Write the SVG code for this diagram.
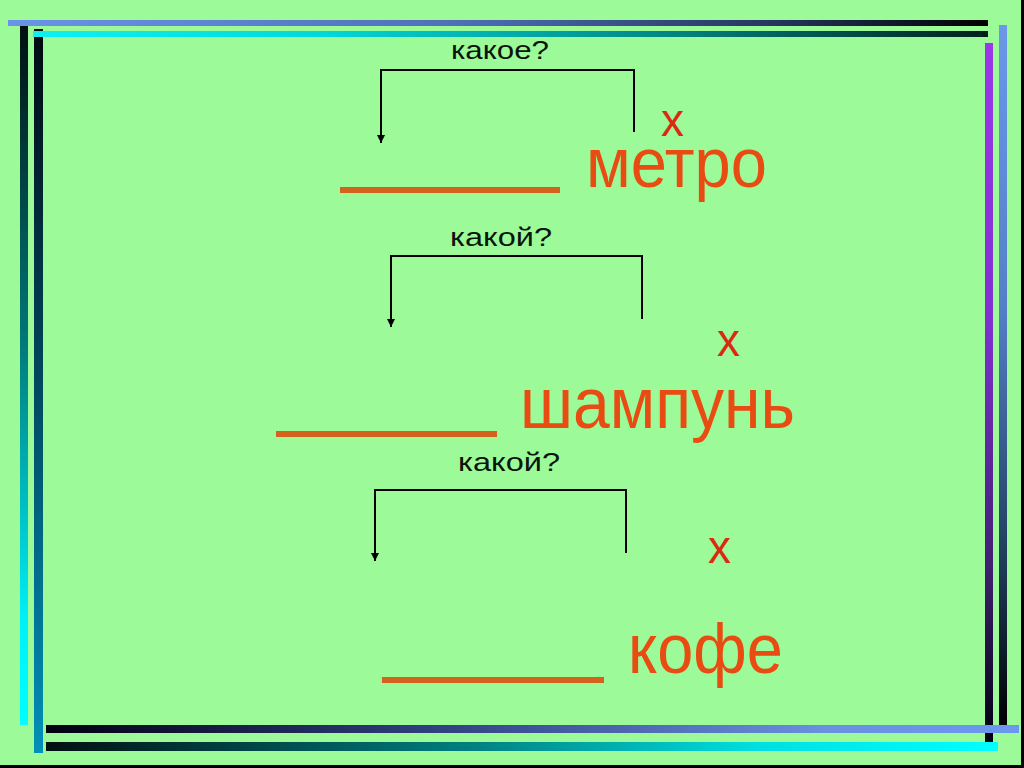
<svg xmlns="http://www.w3.org/2000/svg" width="1024" height="768" viewBox="0 0 1024 768">
<style>
.q{font-family:"Liberation Sans",Arial,sans-serif;font-size:26px;fill:#0a140a}
.w{font-family:"Liberation Sans",Arial,sans-serif;fill:#e84c12}
.x{font-family:"Liberation Sans",Arial,sans-serif;font-size:46px;fill:#d92a12}
.u{fill:#d2621c}
.br{fill:none;stroke:#000;stroke-width:2}
</style>
<defs>
<marker id="ah" viewBox="0 0 10 10" refX="10" refY="5" markerWidth="9" markerHeight="8" markerUnits="userSpaceOnUse" orient="auto">
<path d="M0,0 L10,5 L0,10 z" fill="#000"/>
</marker>
<linearGradient id="gT1" x1="0" y1="0" x2="1" y2="0"><stop offset="0" stop-color="#6a94e8"/><stop offset="0.45" stop-color="#5070b8"/><stop offset="0.78" stop-color="#253660"/><stop offset="1" stop-color="#000"/></linearGradient>
<linearGradient id="gT2" x1="0" y1="0" x2="1" y2="0"><stop offset="0" stop-color="#10f0f0"/><stop offset="0.3" stop-color="#00d8d8"/><stop offset="0.65" stop-color="#008a88"/><stop offset="1" stop-color="#002018"/></linearGradient>
<linearGradient id="gL1" x1="0" y1="0" x2="0" y2="1"><stop offset="0" stop-color="#001010"/><stop offset="0.45" stop-color="#007878"/><stop offset="0.85" stop-color="#00f0f8"/><stop offset="1" stop-color="#00ffff"/></linearGradient>
<linearGradient id="gL2" x1="0" y1="0" x2="0" y2="1"><stop offset="0" stop-color="#000810"/><stop offset="0.5" stop-color="#004a60"/><stop offset="1" stop-color="#0090b8"/></linearGradient>
<linearGradient id="gR1" x1="0" y1="0" x2="0" y2="1"><stop offset="0" stop-color="#9a38ea"/><stop offset="0.4" stop-color="#8030d0"/><stop offset="0.75" stop-color="#402070"/><stop offset="1" stop-color="#000010"/></linearGradient>
<linearGradient id="gR2" x1="0" y1="0" x2="0" y2="1"><stop offset="0" stop-color="#6a98e8"/><stop offset="0.4" stop-color="#5580c8"/><stop offset="0.75" stop-color="#204060"/><stop offset="1" stop-color="#000"/></linearGradient>
<linearGradient id="gB1" x1="0" y1="0" x2="1" y2="0"><stop offset="0" stop-color="#000010"/><stop offset="0.4" stop-color="#304080"/><stop offset="0.8" stop-color="#6a90e0"/><stop offset="1" stop-color="#6a98f0"/></linearGradient>
<linearGradient id="gB2" x1="0" y1="0" x2="1" y2="0"><stop offset="0" stop-color="#001010"/><stop offset="0.45" stop-color="#008080"/><stop offset="0.75" stop-color="#00e0e0"/><stop offset="1" stop-color="#00ffff"/></linearGradient>
</defs>
<rect width="1024" height="768" fill="#9dfa98"/>
<g id="frame">
<rect x="20" y="26" width="8" height="699" fill="url(#gL1)"/>
<rect x="34" y="29" width="9" height="724" fill="url(#gL2)"/>
<rect x="985" y="43" width="8" height="699" fill="url(#gR1)"/>
<rect x="999" y="25" width="8" height="700" fill="url(#gR2)"/>
<rect x="8" y="20" width="980" height="6" fill="url(#gT1)"/>
<rect x="33" y="31" width="955" height="6" fill="url(#gT2)"/>
<rect x="46" y="725" width="973" height="8" fill="url(#gB1)"/>
<rect x="46" y="742" width="952" height="9" fill="url(#gB2)"/>
<rect x="1021" y="0" width="3" height="768" fill="#000"/>
<rect x="0" y="765" width="1024" height="3" fill="#000"/>
</g>
<g id="connectors">
<path class="br" d="M634,132 V70 H381 V143" marker-end="url(#ah)"/>
<path class="br" d="M642,319 V256 H391 V327" marker-end="url(#ah)"/>
<path class="br" d="M626,553 V490 H375 V561" marker-end="url(#ah)"/>
</g>
<g id="q1"><text class="q" x="451" y="59" textLength="98" lengthAdjust="spacingAndGlyphs">какое?</text></g>
<g id="x1"><text class="x" x="661" y="136">х</text></g>
<g id="blank1"><rect class="u" x="340" y="187" width="220" height="6"/></g>
<g id="word1"><text class="w" x="586" y="187" font-size="70" textLength="181" lengthAdjust="spacingAndGlyphs">метро</text></g>
<g id="q2"><text class="q" x="450" y="246" textLength="102" lengthAdjust="spacingAndGlyphs">какой?</text></g>
<g id="x2"><text class="x" x="717" y="356">х</text></g>
<g id="blank2"><rect class="u" x="276" y="431" width="221" height="6"/></g>
<g id="word2"><text class="w" x="520" y="428" font-size="72" textLength="275" lengthAdjust="spacingAndGlyphs">шампунь</text></g>
<g id="q3"><text class="q" x="458" y="471" textLength="102" lengthAdjust="spacingAndGlyphs">какой?</text></g>
<g id="x3"><text class="x" x="708" y="563">х</text></g>
<g id="blank3"><rect class="u" x="382" y="677" width="222" height="6"/></g>
<g id="word3"><text class="w" x="628" y="673" font-size="70" textLength="155" lengthAdjust="spacingAndGlyphs">кофе</text></g>
</svg>
